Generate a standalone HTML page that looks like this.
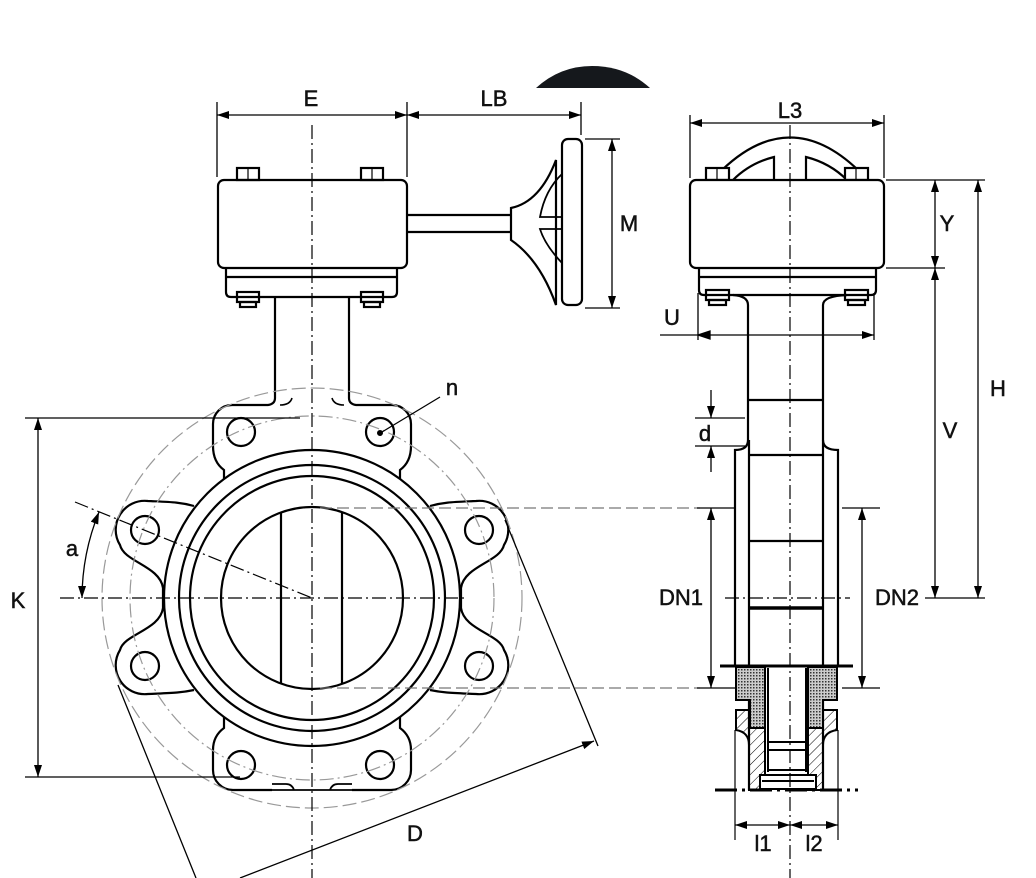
<!DOCTYPE html>
<html><head><meta charset="utf-8"><style>
html,body{margin:0;padding:0;background:#fff}
svg{display:block}
text{font-family:"Liberation Sans",sans-serif;font-size:22px;fill:#111;stroke:#111;stroke-width:0.5;text-anchor:middle}
</style></head><body>
<svg width="1036" height="878" viewBox="0 0 1036 878" xmlns="http://www.w3.org/2000/svg">
<defs>
<marker id="a" viewBox="0 0 12 8" refX="12" refY="4" markerWidth="12" markerHeight="8" orient="auto-start-reverse" markerUnits="userSpaceOnUse"><path d="M0 0L12 4L0 8Z" fill="#000"/></marker>
<pattern id="h" width="7" height="7" patternUnits="userSpaceOnUse" patternTransform="rotate(45)"><line x1="0" y1="0" x2="0" y2="7" stroke="#000" stroke-width="1"/></pattern>
<pattern id="x" width="3" height="3" patternUnits="userSpaceOnUse"><rect width="3" height="3" fill="#ccc"/><rect width="1.5" height="1.5" fill="#333"/></pattern>
</defs>

<path d="M536 88 Q560 66 592 66 Q626 66 650 88 Z" fill="#15181c"/>

<g fill="none" stroke="#000" stroke-width="2.2">
<rect x="218" y="180" width="189" height="88" rx="6"/>
<path d="M226 268 V292 Q226 297 231 297 H392 Q397 297 397 292 V268 M226 277 H397"/>
<rect x="237" y="168" width="22" height="12"/><rect x="361" y="168" width="22" height="12"/>
<path d="M248 168 V180 M372 168 V180" stroke-width="1.2"/>
<rect x="237" y="292" width="22" height="10"/><rect x="240" y="302" width="16" height="5"/>
<rect x="361" y="292" width="22" height="10"/><rect x="364" y="302" width="16" height="5"/>
<path d="M407 215 H511 M407 232 H511"/>
<path d="M511 208 Q540 202 556 160 V305 Q540 260 511 240 Z"/>
<path d="M562 174 Q545 190 540 217 H562 M562 263 Q545 245 540 229 H562" stroke-width="1.8"/>
<rect x="562" y="139" width="20" height="166" rx="6" fill="#fff"/>
<path d="M275 297 V398 Q275 404 268 405 H232 A19 19 0 0 0 213 424 V446 Q213 462 224 470 V482"/>
<path d="M349 297 V398 Q349 404 356 405 H392 A19 19 0 0 1 411 424 V446 Q411 462 400 470 V482"/>
<path d="M280 405 Q290 405 292 398 M344 405 Q334 405 332 398" stroke-width="1.6"/>
<path d="M194 506 C180 502 170 502 148 501 A29 29 0 0 0 120 545 C124 562 160 566 163 588 V608 C160 630 124 634 120 650 A29 29 0 0 0 148 694 C170 693 180 693 194 690"/>
<path d="M430 506 C444 502 454 502 476 501 A29 29 0 0 1 504 545 C500 562 464 566 461 588 V608 C464 630 500 634 504 650 A29 29 0 0 1 476 694 C454 693 444 693 430 690"/>
<path d="M224 714 V728 Q213 736 213 750 V770 A20 20 0 0 0 233 790 H272 M400 714 V728 Q411 736 411 750 V770 A20 20 0 0 1 391 790 H352"/>
<path d="M272 784 H286 Q292 784 294 790 M352 784 H338 Q332 784 330 790 M272 790 H352" stroke-width="1.8"/>
<circle cx="312" cy="598" r="148" fill="#fff"/>
<circle cx="312" cy="598" r="133"/>
<circle cx="312" cy="598" r="122"/>
<circle cx="312" cy="598" r="91"/>
<path d="M281 513 V684 M342 513 V684"/>
<circle cx="241" cy="432" r="14"/><circle cx="380" cy="432" r="14"/>
<circle cx="145" cy="530" r="14"/><circle cx="479" cy="530" r="14"/>
<circle cx="145" cy="666" r="14"/><circle cx="479" cy="666" r="14"/>
<circle cx="241" cy="765" r="14"/><circle cx="380" cy="765" r="14"/>
</g>
<circle cx="380" cy="433" r="3" fill="#000"/>

<g fill="none" stroke="#444" stroke-width="1.2">
<circle cx="312" cy="598" r="210" stroke="#999" stroke-dasharray="14 5"/>
<circle cx="312" cy="598" r="182" stroke="#999" stroke-dasharray="14 4 2 4"/>
<path d="M312 125 V878 M60 598 H465" stroke="#000" stroke-dasharray="14 4 2 4"/>
<path d="M75 502 L312 598" stroke="#000" stroke-dasharray="14 4 2 4"/>
<path d="M320 508 H700 M320 688 H700" stroke="#777" stroke-dasharray="12 5"/>
</g>

<g fill="none" stroke="#000" stroke-width="1.3">
<path d="M217 102 V177 M407 102 V177 M581 102 V135 M585 139 H620 M585 308 H620"/>
<path d="M217 115 H407" marker-start="url(#a)" marker-end="url(#a)"/>
<path d="M407 115 H581" marker-start="url(#a)" marker-end="url(#a)"/>
<path d="M612 139 V308" marker-start="url(#a)" marker-end="url(#a)"/>
<path d="M25 418 H300 M25 777 H240"/>
<path d="M38 418 V777" marker-start="url(#a)" marker-end="url(#a)"/>
<path d="M99 512 A230 230 0 0 0 82 598" marker-start="url(#a)" marker-end="url(#a)"/>
<path d="M118 685 L196 878 M505 520 L598 746"/>
<path d="M240 878 L594 741" marker-end="url(#a)"/>
<path d="M382 432 L440 397"/>
</g>
<text x="311" y="106">E</text>
<text x="494" y="106">LB</text>
<text x="629" y="231">M</text>
<text x="452" y="395">n</text>
<text x="72" y="556">a</text>
<text x="18" y="608">K</text>
<text x="415" y="841">D</text>

<g fill="none" stroke="#000" stroke-width="2.2">
<path d="M722 170 Q790 105 858 170"/>
<path d="M733 180 Q750 163 774 157 V180 M847 180 Q830 163 806 157 V180"/>
<rect x="706" y="168" width="23" height="12" fill="#fff"/><rect x="845" y="168" width="23" height="12" fill="#fff"/>
<path d="M717 168 V180 M856 168 V180" stroke-width="1.2"/>
<rect x="690" y="180" width="194" height="88" rx="6" fill="#fff"/>
<path d="M699 268 V290 Q699 295 704 295 H871 Q876 295 876 290 V268 M699 277 H876"/>
<rect x="706" y="290" width="23" height="10"/><rect x="709" y="300" width="17" height="5"/>
<rect x="845" y="290" width="23" height="10"/><rect x="848" y="300" width="17" height="5"/>
<path d="M733 295 Q748 296 748 305 V440 Q748 450 735 450 V665 M847 295 Q823 296 823 305 V440 Q823 450 838 450 V665"/>
<path d="M749 440 V790 M823 440 V790"/>
<path d="M749 400 H823 M749 455 H823 M749 541 H823"/>
<path d="M749 608 H823" stroke-width="3.5"/>
<path d="M720 666 H853" stroke-width="3"/>
</g>
<g stroke="#000" stroke-width="2">
<path d="M736 667 H765 V728 H750 V700 H736 Z" fill="url(#x)"/>
<path d="M837 667 H808 V728 H823 V700 H837 Z" fill="url(#x)"/>
<path d="M736 710 H750 V728 H765 V790 H749 V745 Q749 732 736 730 Z" fill="url(#h)"/>
<path d="M837 710 H823 V728 H808 V790 H823 V745 Q823 732 837 730 Z" fill="url(#h)"/>
<path d="M768 668 V742 H806 V668" fill="#fff"/>
<path d="M768 742 V772 M806 742 V772 M768 750 H806 M768 770 H806"/>
<rect x="760" y="775" width="56" height="14" fill="#fff"/>
<path d="M762 781 H814"/>
</g>
<g fill="none" stroke="#000" stroke-width="1.2">
<path d="M735 730 V840 M838 730 V840"/>
<path d="M790 125 V878" stroke-dasharray="14 4 2 4"/>
<path d="M725 598 H850" stroke-dasharray="14 4 2 4"/>
<path d="M715 790 H858" stroke-width="3" stroke-dasharray="22 5 3 5"/>
</g>
<g fill="none" stroke="#000" stroke-width="1.3">
<path d="M690 115 V178 M884 115 V178"/>
<path d="M690 123 H884" marker-start="url(#a)" marker-end="url(#a)"/>
<path d="M886 180 H985 M886 268 H945 M925 598 H985"/>
<path d="M935 180 V268" marker-start="url(#a)" marker-end="url(#a)"/>
<path d="M935 268 V598" marker-start="url(#a)" marker-end="url(#a)"/>
<path d="M978 180 V598" marker-start="url(#a)" marker-end="url(#a)"/>
<path d="M698 293 V340 M874 293 V340"/>
<path d="M660 335 H874" marker-end="url(#a)"/>
<path d="M698 335 L710 331 L710 339 Z" fill="#000"/>
<path d="M695 418 H745 M695 446 H745"/>
<path d="M711 390 V418" marker-end="url(#a)"/>
<path d="M711 472 V446" marker-end="url(#a)"/>
<path d="M697 508 H735 M697 688 H735 M842 508 H880 M842 688 H880"/>
<path d="M711 508 V688" marker-start="url(#a)" marker-end="url(#a)"/>
<path d="M862 508 V688" marker-start="url(#a)" marker-end="url(#a)"/>
<path d="M735 825 H790" marker-start="url(#a)" marker-end="url(#a)"/>
<path d="M790 825 H838" marker-start="url(#a)" marker-end="url(#a)"/>
</g>
<text x="790" y="118">L3</text>
<text x="947" y="231">Y</text>
<text x="998" y="396">H</text>
<text x="950" y="438">V</text>
<text x="672" y="325">U</text>
<text x="705" y="441">d</text>
<text x="681" y="605">DN1</text>
<text x="897" y="605">DN2</text>
<text x="763" y="851">l1</text>
<text x="814" y="851">l2</text>
</svg>
</body></html>
